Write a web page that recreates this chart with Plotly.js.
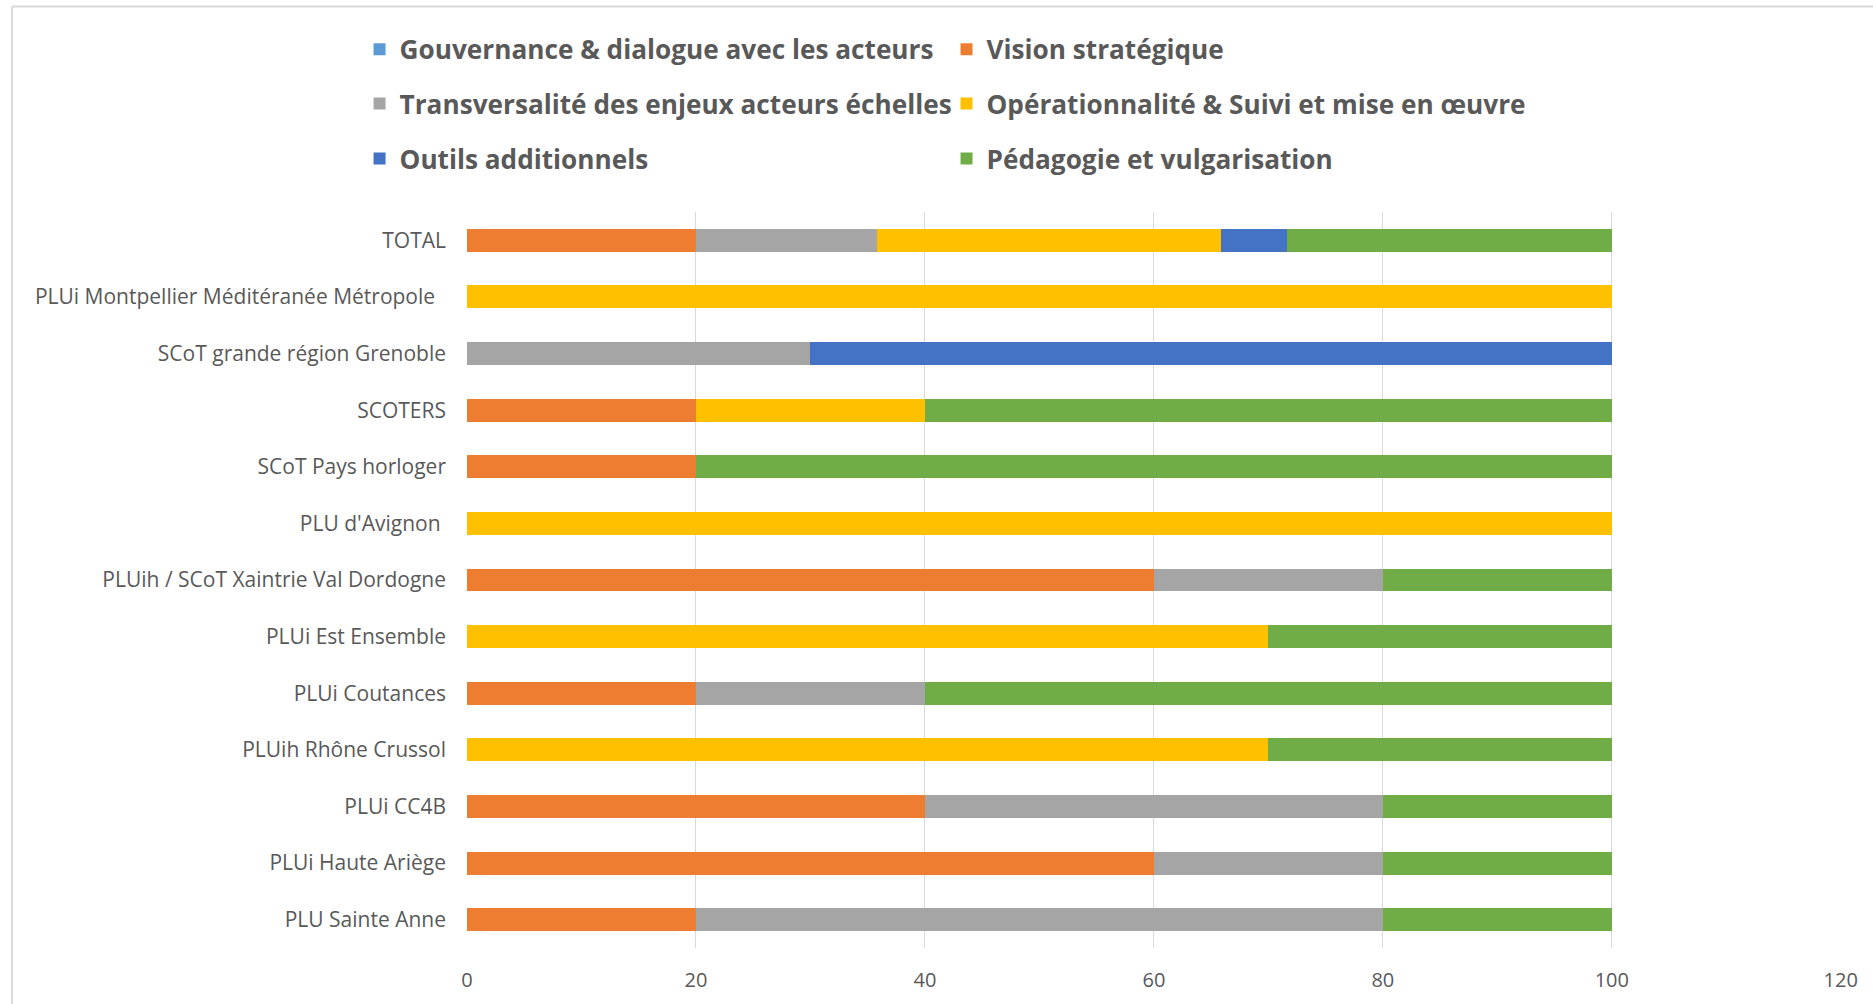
<!DOCTYPE html>
<html>
<head>
<meta charset="utf-8">
<script src="https://cdn.plot.ly/plotly-3.0.1.min.js"></script>
<style>
  html, body { margin: 0; padding: 0; background: #ffffff; }
  #chart { width: 1873px; height: 1004px; }
</style>
</head>
<body>
<div id="chart"></div>
<script>
// Categories, top to bottom
const categories = [
  "TOTAL",
  "PLUi Montpellier Méditéranée Métropole\u00a0\u00a0",
  "SCoT grande région Grenoble",
  "SCOTERS",
  "SCoT Pays horloger",
  "PLU d'Avignon\u00a0",
  "PLUih / SCoT Xaintrie Val Dordogne",
  "PLUi Est Ensemble",
  "PLUi Coutances",
  "PLUih Rhône Crussol",
  "PLUi CC4B",
  "PLUi Haute Ariège",
  "PLU Sainte Anne"
];

const seriesNames = [
  "Gouvernance & dialogue avec les acteurs",
  "Vision stratégique",
  "Transversalité des enjeux acteurs échelles",
  "Opérationnalité & Suivi et mise en œuvre",
  "Outils additionnels",
  "Pédagogie et vulgarisation"
];

const gouvernance     = [0, 0, 0, 0, 0, 0, 0, 0, 0, 0, 0, 0, 0];
const vision          = [20, 0, 0, 20, 20, 0, 60, 0, 20, 0, 40, 60, 20];
const transversalite  = [15.83, 0, 30, 0, 0, 0, 20, 0, 20, 0, 40, 20, 60];
const operationnalite = [30, 100, 0, 20, 0, 100, 0, 70, 0, 70, 0, 0, 0];
const outils          = [5.83, 0, 70, 0, 0, 0, 0, 0, 0, 0, 0, 0, 0];
const pedagogie       = [28.33, 0, 0, 60, 80, 0, 20, 30, 60, 30, 20, 20, 20];

const xTicks = [0, 20, 40, 60, 80, 100, 120];

const seriesValues = [gouvernance, vision, transversalite, operationnalite, outils, pedagogie];
const colors = ["#5B9BD5", "#ED7D31", "#A5A5A5", "#FFC000", "#4472C4", "#70AD47"];
const legendIds = ["legend", "legend2", "legend3", "legend4", "legend5", "legend6"];

const textColor = "#595959";
const fontFamily = "'Open Sans', Lato, sans-serif";

const traces = seriesNames.map((name, i) => ({
  type: "bar",
  orientation: "h",
  name: name,
  y: categories,
  x: seriesValues[i],
  marker: { color: colors[i] },
  legend: legendIds[i],
  showlegend: true,
  hoverinfo: "x+name"
}));

// legend positions (paper coords): two columns, three rows
const colX = [-0.0782, 0.3490];
const rowY = [1.2205, 1.1467, 1.0720];

const layout = {
  width: 1873,
  height: 1004,
  showlegend: true,
  paper_bgcolor: "#ffffff",
  plot_bgcolor: "#ffffff",
  barmode: "stack",
  bargap: 0.594,
  margin: { l: 467, r: 32, t: 212, b: 56, pad: 0 },
  font: { family: fontFamily, color: textColor, size: 20 },
  xaxis: {
    range: [0, 120.02],
    tickvals: xTicks,
    ticktext: xTicks.map(String),
    showgrid: true,
    gridcolor: "#D9D9D9",
    gridwidth: 1,
    zeroline: false,
    showline: false,
    ticks: "",
    ticklabelstandoff: 18,
    tickfont: { family: fontFamily, size: 20, color: textColor },
    fixedrange: true
  },
  yaxis: {
    type: "category",
    autorange: "reversed",
    showgrid: false,
    zeroline: false,
    showline: false,
    ticks: "",
    ticklabelstandoff: 20,
    tickfont: { family: fontFamily, size: 21, color: textColor },
    fixedrange: true
  },
  shapes: [
    { type: "line", xref: "paper", yref: "paper", x0: -0.3311, x1: -0.3311, y0: -0.1, y1: 1.2792,
      line: { color: "#D9D9D9", width: 2 } },
    { type: "line", xref: "paper", yref: "paper", x0: -0.3311, x1: 1.05, y0: 1.2792, y1: 1.2792,
      line: { color: "#D9D9D9", width: 2 } }
  ]
};

legendIds.forEach((id, i) => {
  layout[id] = {
    visible: true,
    orientation: "h",
    x: colX[i % 2],
    y: rowY[Math.floor(i / 2)],
    xanchor: "left",
    yanchor: "middle",
    bgcolor: "rgba(0,0,0,0)",
    borderwidth: 0,
    font: { family: fontFamily, size: 26.2, color: textColor, weight: "bold" }
  };
});

Plotly.newPlot("chart", traces, layout, { displayModeBar: false, responsive: false });
</script>
</body>
</html>
